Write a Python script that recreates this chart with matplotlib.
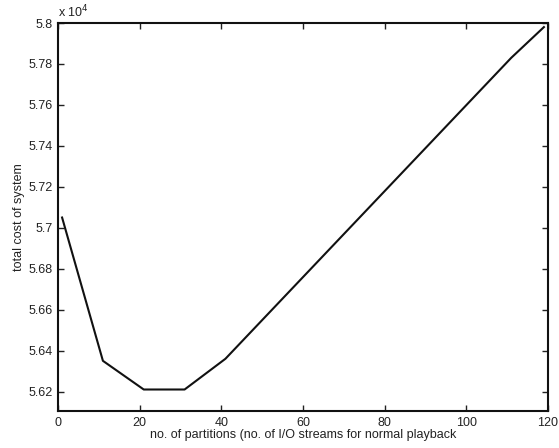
import matplotlib
matplotlib.use("Agg")
import matplotlib.pyplot as plt

partitions = [1, 11, 21, 31, 41, 51, 61, 71, 81, 91, 101, 111, 119]
cost_1e4 = [5.705, 5.635, 5.621, 5.621, 5.636, 5.657, 5.678, 5.699,
            5.720, 5.741, 5.762, 5.783, 5.798]
xticks = [0, 20, 40, 60, 80, 100, 120]
yticks = [5.62, 5.64, 5.66, 5.68, 5.70, 5.72, 5.74, 5.76, 5.78, 5.80]
ytick_labels = ["5.62", "5.64", "5.66", "5.68", "5.7", "5.72", "5.74", "5.76", "5.78", "5.8"]

plt.rcParams['font.family'] = ['Liberation Sans', 'DejaVu Sans']

fig = plt.figure(figsize=(5.59, 4.48), dpi=100)
ax = fig.add_axes([58/559, 1-411/448, (548-58)/559, (411-23)/448])
ax.plot(partitions, cost_1e4, color='#111111', lw=1.5)
ax.set_xlim(0, 120)
ax.set_ylim(5.6105, 5.80)
ax.set_xticks(xticks)
ax.set_xticklabels([str(t) for t in xticks])
ax.set_yticks(yticks)
ax.set_yticklabels(ytick_labels)
ax.tick_params(direction='in', top=True, right=True, length=4, width=1,
               labelsize=9, colors='#222222', pad=4)
for s in ax.spines.values():
    s.set_linewidth(1.5)
    s.set_color('#111111')
ax.set_xlabel("no. of partitions (no. of I/O streams for normal playback",
              fontsize=9, color='#222222', labelpad=0)
ax.set_ylabel("total cost of system", fontsize=9, color='#222222', labelpad=2)
ax.text(0.0, 1.006, r"x 10$^4$", transform=ax.transAxes, fontsize=9,
        color='#222222', ha='left', va='bottom')
fig.savefig("out.png", dpi=100)
